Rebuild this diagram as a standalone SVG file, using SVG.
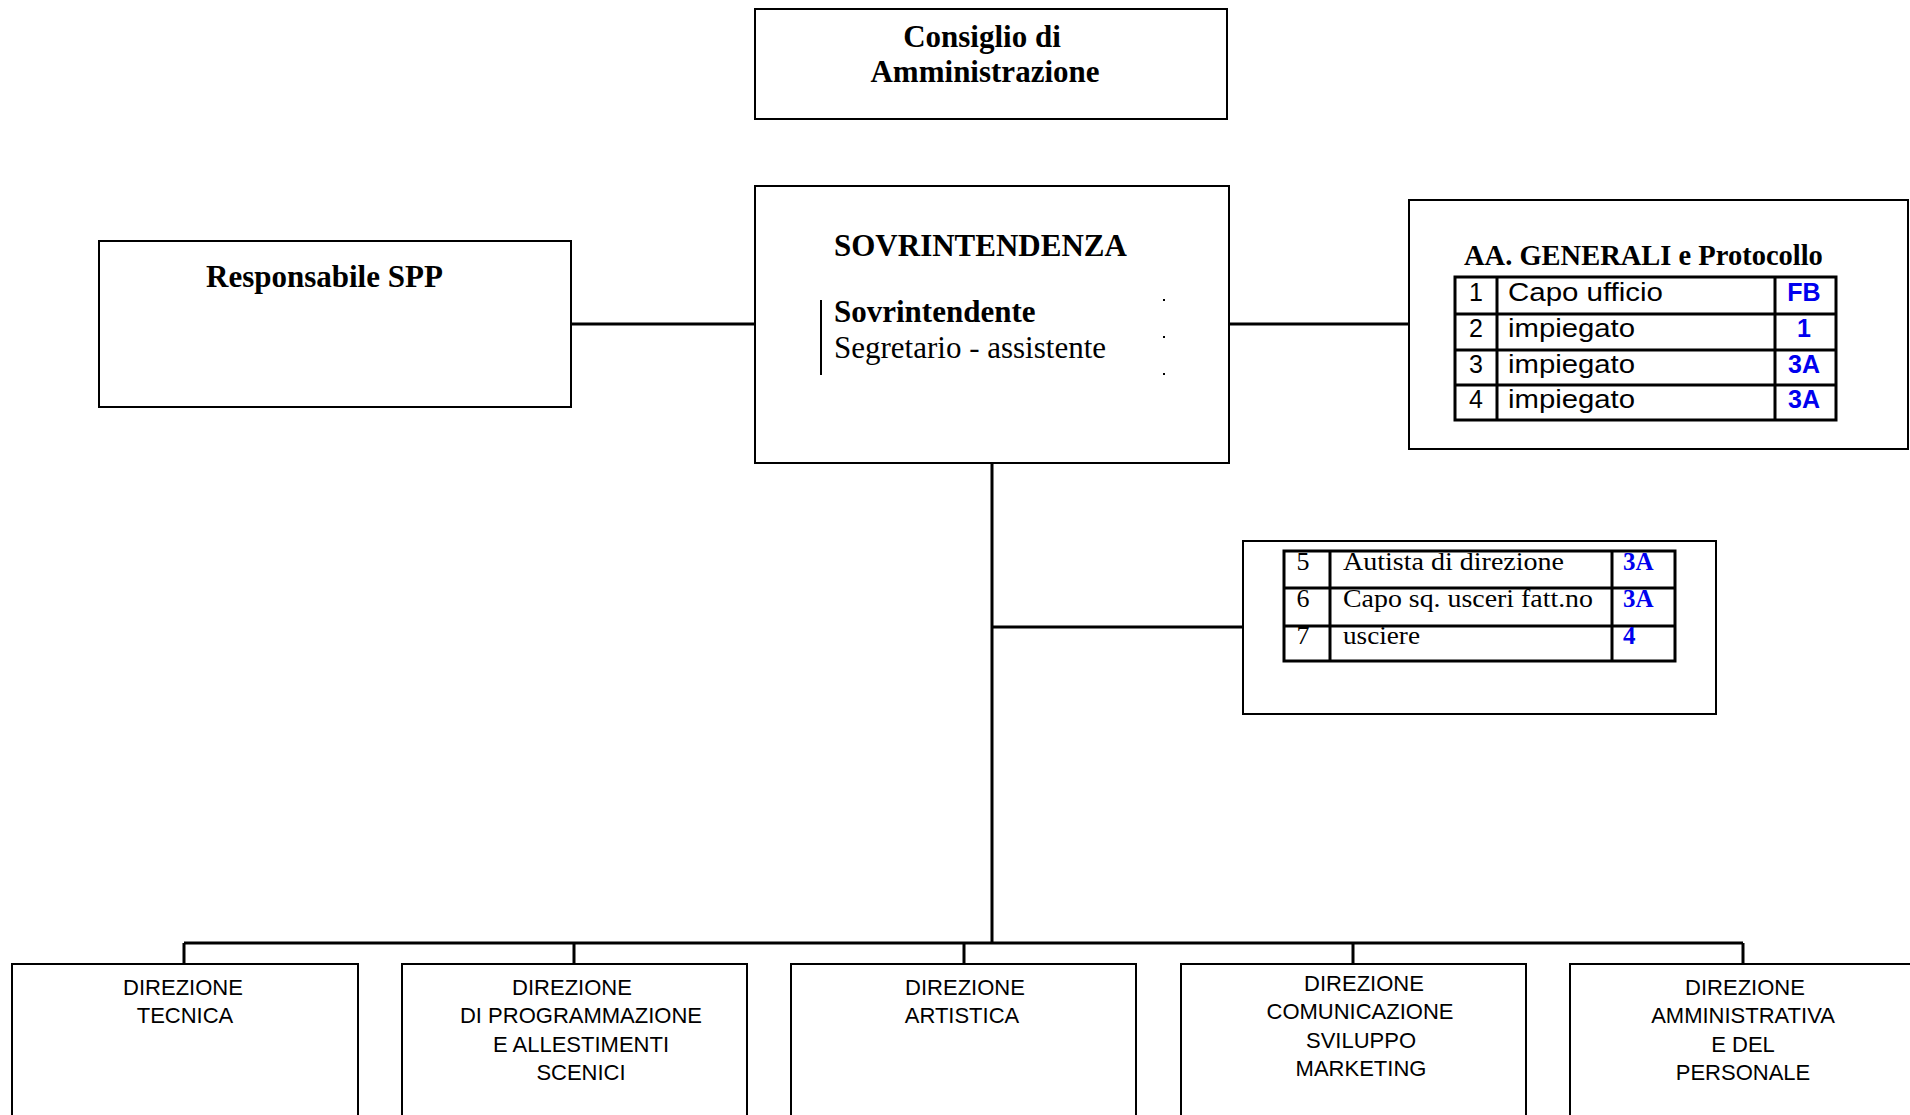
<svg xmlns="http://www.w3.org/2000/svg" width="1910" height="1115" viewBox="0 0 1910 1115">
<style>
.box{fill:#fff;stroke:#000;stroke-width:2}
.conn{fill:none;stroke:#000;stroke-width:3}
.tl{fill:none;stroke:#000;stroke-width:3}
.hb{font-family:"Liberation Serif",serif;font-weight:bold;font-size:31px;fill:#000}
.hr{font-family:"Liberation Serif",serif;font-size:31px;fill:#000}
.ts{font-family:"Liberation Sans",Arial,sans-serif;font-size:25px;fill:#000}
.tb{font-family:"Liberation Sans",Arial,sans-serif;font-size:25px;font-weight:bold;fill:#0000ee}
.tr{font-family:"Liberation Serif",serif;font-size:26px;fill:#000}
.trb{font-family:"Liberation Serif",serif;font-size:25px;font-weight:bold;fill:#0000ee}
.dz{font-family:"Liberation Sans",Arial,sans-serif;font-size:22px;fill:#000;text-anchor:middle}
</style>
<rect width="1910" height="1115" fill="#fff"/>
<g id="connectors">
<path class="conn" d="M571,324 H755"/>
<path class="conn" d="M1229,324 H1409"/>
<path class="conn" d="M992,463 V943"/>
<path class="conn" d="M992,627 H1243"/>
<path class="conn" d="M184,943 H1743"/>
<path class="conn" d="M184,943 V964 M574,943 V964 M964,943 V964 M1353,943 V964 M1743,943 V964"/>
</g>
<g id="consiglio">
<rect class="box" x="755" y="9" width="472" height="110"/>
<text class="hb" x="982" y="47" text-anchor="middle">Consiglio di</text>
<text class="hb" x="985" y="82" text-anchor="middle">Amministrazione</text>
</g>
<g id="sovrintendenza">
<rect class="box" x="755" y="186" width="474" height="277"/>
<text class="hb" x="834" y="256">SOVRINTENDENZA</text>
<path d="M821,300 V375" stroke="#000" stroke-width="2"/>
<text class="hb" x="834" y="322">Sovrintendente</text>
<text class="hr" x="834" y="358">Segretario - assistente</text>
<rect x="1163" y="299" width="2" height="2" fill="#000"/>
<rect x="1163" y="336" width="2" height="2" fill="#000"/>
<rect x="1163" y="373" width="2" height="2" fill="#000"/>
</g>
<g id="responsabile-spp">
<rect class="box" x="99" y="241" width="472" height="166"/>
<text class="hb" x="206" y="287">Responsabile SPP</text>
</g>
<g id="aa-generali">
<rect class="box" x="1409" y="200" width="499" height="249"/>
<text class="hb" x="1464" y="265" style="font-size:28.5px">AA. GENERALI e Protocollo</text>
<rect class="tl" x="1455" y="277" width="381" height="143"/>
<path class="tl" d="M1497,277 V420 M1775,277 V420 M1455,314 H1836 M1455,350 H1836 M1455,385 H1836"/>
<text class="ts" x="1476" y="301" text-anchor="middle">1</text>
<text class="ts" x="1476" y="337" text-anchor="middle">2</text>
<text class="ts" x="1476" y="373" text-anchor="middle">3</text>
<text class="ts" x="1476" y="408" text-anchor="middle">4</text>
<text class="ts" x="1508" y="301" textLength="155" lengthAdjust="spacingAndGlyphs">Capo ufficio</text>
<text class="ts" x="1508" y="337" textLength="127" lengthAdjust="spacingAndGlyphs">impiegato</text>
<text class="ts" x="1508" y="373" textLength="127" lengthAdjust="spacingAndGlyphs">impiegato</text>
<text class="ts" x="1508" y="408" textLength="127" lengthAdjust="spacingAndGlyphs">impiegato</text>
<text class="tb" x="1804" y="301" text-anchor="middle">FB</text>
<text class="tb" x="1804" y="337" text-anchor="middle">1</text>
<text class="tb" x="1804" y="373" text-anchor="middle">3A</text>
<text class="tb" x="1804" y="408" text-anchor="middle">3A</text>
</g>
<g id="uscieri">
<rect class="box" x="1243" y="541" width="473" height="173"/>
<rect class="tl" x="1284" y="551" width="391" height="110"/>
<path class="tl" d="M1330,551 V661 M1612,551 V661 M1284,588 H1675 M1284,626 H1675"/>
<text class="tr" x="1303" y="570" text-anchor="middle">5</text>
<text class="tr" x="1303" y="607" text-anchor="middle">6</text>
<text class="tr" x="1303" y="644" text-anchor="middle">7</text>
<text class="tr" x="1343" y="570" textLength="221" lengthAdjust="spacingAndGlyphs">Autista di direzione</text>
<text class="tr" x="1343" y="607" textLength="250" lengthAdjust="spacingAndGlyphs">Capo sq. usceri fatt.no</text>
<text class="tr" x="1343" y="644" textLength="77" lengthAdjust="spacingAndGlyphs">usciere</text>
<text class="trb" x="1623" y="570">3A</text>
<text class="trb" x="1623" y="607">3A</text>
<text class="trb" x="1623" y="644">4</text>
</g>
<g id="dir-tecnica">
<rect class="box" x="12" y="964" width="346" height="170"/>
<text class="dz" x="183" y="995">DIREZIONE</text>
<text class="dz" x="185" y="1023">TECNICA</text>
</g>
<g id="dir-programmazione">
<rect class="box" x="402" y="964" width="345" height="170"/>
<text class="dz" x="572" y="995">DIREZIONE</text>
<text class="dz" x="581" y="1023">DI PROGRAMMAZIONE</text>
<text class="dz" x="581" y="1052">E ALLESTIMENTI</text>
<text class="dz" x="581" y="1080">SCENICI</text>
</g>
<g id="dir-artistica">
<rect class="box" x="791" y="964" width="345" height="170"/>
<text class="dz" x="965" y="995">DIREZIONE</text>
<text class="dz" x="962" y="1023">ARTISTICA</text>
</g>
<g id="dir-comunicazione">
<rect class="box" x="1181" y="964" width="345" height="170"/>
<text class="dz" x="1364" y="991">DIREZIONE</text>
<text class="dz" x="1360" y="1019">COMUNICAZIONE</text>
<text class="dz" x="1361" y="1048">SVILUPPO</text>
<text class="dz" x="1361" y="1076">MARKETING</text>
</g>
<g id="dir-amministrativa">
<rect class="box" x="1570" y="964" width="360" height="170"/>
<text class="dz" x="1745" y="995">DIREZIONE</text>
<text class="dz" x="1743" y="1023">AMMINISTRATIVA</text>
<text class="dz" x="1743" y="1052">E DEL</text>
<text class="dz" x="1743" y="1080">PERSONALE</text>
</g>
</svg>
